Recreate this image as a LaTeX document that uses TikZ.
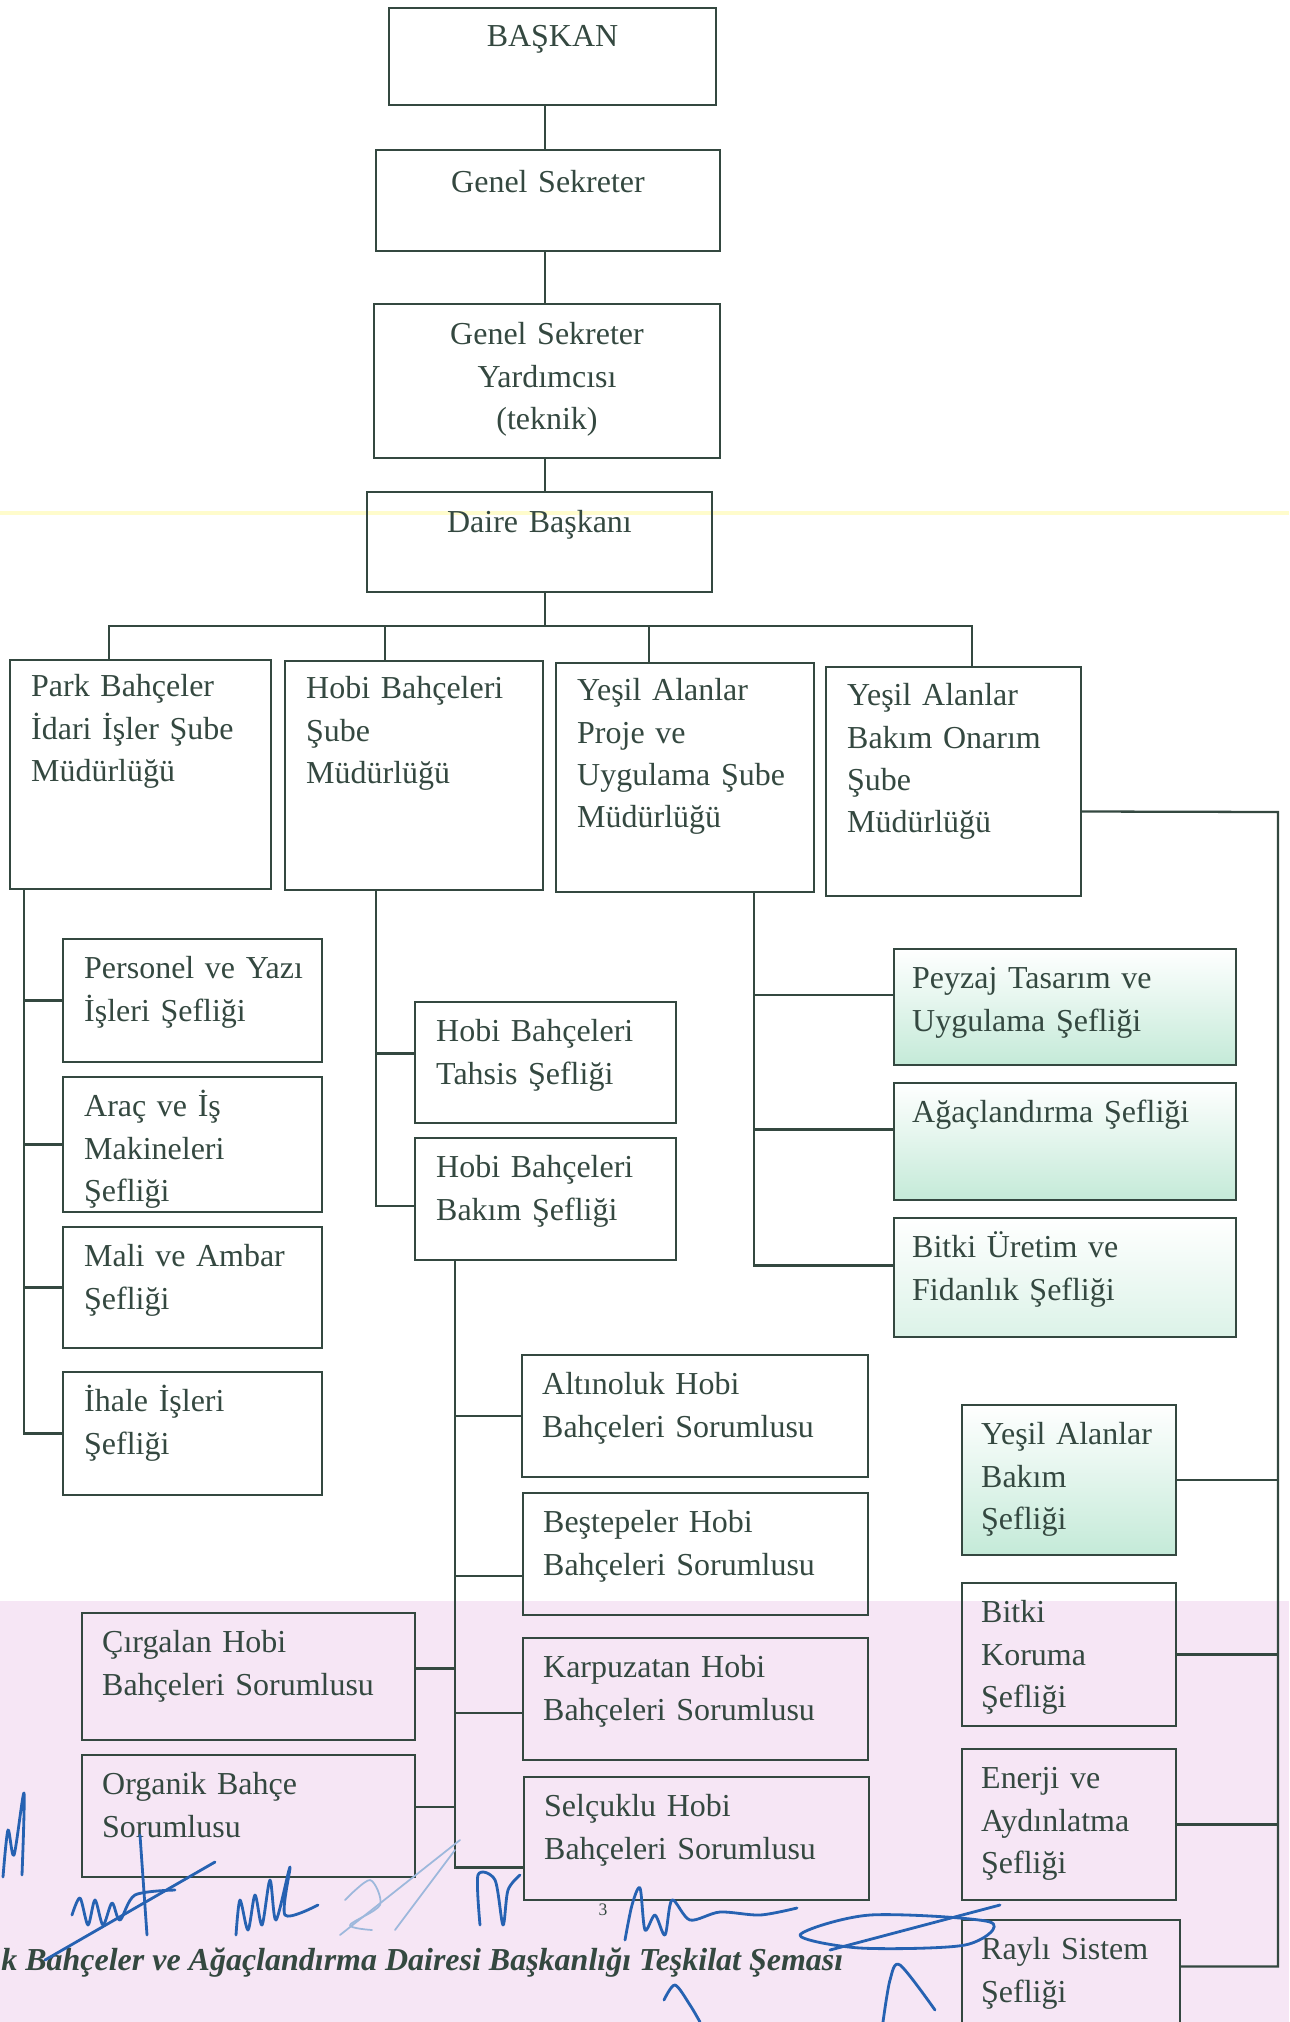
\documentclass[tikz,border=0pt]{standalone}
\usepackage{fontspec}
\setmainfont{Liberation Serif}
\usetikzlibrary{fit}
\definecolor{ink}{RGB}{52,72,64}
\definecolor{mint}{RGB}{196,234,216}
\definecolor{pinkbg}{RGB}{246,230,245}
\definecolor{pen}{RGB}{38,98,178}
\begin{document}
\begin{tikzpicture}[x=0.02cm, y=-0.02cm,
    box/.style={draw=ink, line width=1.3pt, inner sep=0pt},
    greenbox/.style={box, top color=white, middle color=white, bottom color=mint},
    lbl/.style={anchor=base west, text width=8cm, align=left, inner sep=0pt, text=ink, font=\fontsize{18.2}{24.1}\selectfont},
    lblc/.style={lbl, anchor=base, align=center},
    link/.style={draw=ink, line width=1.3pt}]
  \useasboundingbox (0,0) rectangle (1289,2022);
  \clip (0,0) rectangle (1289,2022);
  \fill[pinkbg] (0,1601) rectangle (1289,2022);
  \draw[line width=2pt, yellow!20] (0,513) -- (1289,513);

  % top chain
  \node[box, fit={(389,8) (716,105)}] (baskan) {};
  \node[box, fit={(376,150) (720,251)}] (gs) {};
  \node[box, fit={(374,304) (720,458)}] (gsy) {};
  \node[box, fit={(367,492) (712,592)}] (daire) {};
  \node[lblc] (baskan-t) at ([shift={(0,40)}]baskan.north) {BAŞKAN};
  \node[lblc] (gs-t) at ([shift={(0,44)}]gs.north) {Genel Sekreter};
  \node[lblc] (gsy-t) at ([shift={(0,42)}]gsy.north) {Genel Sekreter\\Yardımcısı\\(teknik)};
  \node[lblc] (daire-t) at ([shift={(0,42)}]daire.north) {Daire Başkanı};
  \coordinate (bus) at (545,626);
  \draw[link] (baskan.south -| bus) -- (gs.north -| bus);
  \draw[link] (gs.south -| bus) -- (gsy.north -| bus);
  \draw[link] (gsy.south -| bus) -- (daire.north -| bus);
  \draw[link] (daire.south -| bus) -- (bus);

  % sube mudurlukleri
  \node[box, fit={(10,660) (271,889)}] (park) {};
  \node[box, fit={(285,661) (543,890)}] (hobi) {};
  \node[box, fit={(556,663) (814,892)}] (proje) {};
  \node[box, fit={(826,667) (1081,896)}] (bakim) {};
  \node[lbl] (park-t) at ([shift={(22,38)}]park.north west) {Park Bahçeler\\İdari İşler Şube\\Müdürlüğü};
  \node[lbl] (hobi-t) at ([shift={(22,39)}]hobi.north west) {Hobi Bahçeleri\\Şube\\Müdürlüğü};
  \node[lbl] (proje-t) at ([shift={(22,39)}]proje.north west) {Yeşil Alanlar\\Proje ve\\Uygulama Şube\\Müdürlüğü};
  \node[lbl] (bakim-t) at ([shift={(22,40)}]bakim.north west) {Yeşil Alanlar\\Bakım Onarım\\Şube\\Müdürlüğü};
  \draw[link] ([xshift=2cm]park.north west) |- (bus) -| ([xshift=2.94cm]bakim.north west);
  \draw[link] ([xshift=2.02cm]hobi.north west) |- (bus);
  \draw[link] ([xshift=1.88cm]proje.north west) |- (bus);

  % park bahceler
  \node[box, fit={(63,939) (322,1062)}] (personel) {};
  \node[box, fit={(63,1077) (322,1212)}] (arac) {};
  \node[box, fit={(63,1227) (322,1348)}] (mali) {};
  \node[box, fit={(63,1372) (322,1495)}] (ihale) {};
  \node[lbl] (personel-t) at ([shift={(22,41)}]personel.north west) {Personel ve Yazı\\İşleri Şefliği};
  \node[lbl] (arac-t) at ([shift={(22,41)}]arac.north west) {Araç ve İş\\Makineleri\\Şefliği};
  \node[lbl] (mali-t) at ([shift={(22,41)}]mali.north west) {Mali ve Ambar\\Şefliği};
  \node[lbl] (ihale-t) at ([shift={(22,41)}]ihale.north west) {İhale İşleri\\Şefliği};
  \draw[link] ([xshift=0.3cm]park.south west) |- (ihale.west);
  \foreach \n in {personel,arac,mali}
    \draw[link] (\n.west) -| ([xshift=0.3cm]park.south west);

  % hobi bahceleri
  \node[box, fit={(415,1002) (676,1123)}] (tahsis) {};
  \node[box, fit={(415,1138) (676,1260)}] (hbakim) {};
  \node[lbl] (tahsis-t) at ([shift={(22,41)}]tahsis.north west) {Hobi Bahçeleri\\Tahsis Şefliği};
  \node[lbl] (hbakim-t) at ([shift={(22,41)}]hbakim.north west) {Hobi Bahçeleri\\Bakım Şefliği};
  \draw[link] ([xshift=1.84cm]hobi.south west) |- ([yshift=-0.14cm]hbakim.west);
  \draw[link] ([yshift=0.18cm]tahsis.west) -| ([xshift=1.84cm]hobi.south west);

  % hobi bahceleri sorumlulari
  \node[box, fit={(522,1355) (868,1477)}] (altinoluk) {};
  \node[box, fit={(523,1493) (868,1615)}] (bestepe) {};
  \node[box, fit={(523,1638) (868,1760)}] (karpuz) {};
  \node[box, fit={(524,1777) (869,1900)}] (selcuk) {};
  \node[box, fit={(82,1613) (415,1740)}] (cirgalan) {};
  \node[box, fit={(82,1755) (415,1877)}] (organik) {};
  \node[lbl] (altinoluk-t) at ([shift={(21,41)}]altinoluk.north west) {Altınoluk Hobi\\Bahçeleri Sorumlusu};
  \node[lbl] (bestepe-t) at ([shift={(21,41)}]bestepe.north west) {Beştepeler Hobi\\Bahçeleri Sorumlusu};
  \node[lbl] (karpuz-t) at ([shift={(21,41)}]karpuz.north west) {Karpuzatan Hobi\\Bahçeleri Sorumlusu};
  \node[lbl] (selcuk-t) at ([shift={(21,41)}]selcuk.north west) {Selçuklu Hobi\\Bahçeleri Sorumlusu};
  \node[lbl] (cirgalan-t) at ([shift={(21,41)}]cirgalan.north west) {Çırgalan Hobi\\Bahçeleri Sorumlusu};
  \node[lbl] (organik-t) at ([shift={(21,41)}]organik.north west) {Organik Bahçe\\Sorumlusu};
  \draw[link] ([xshift=0.82cm]hbakim.south west) |- ([yshift=-0.58cm]selcuk.west);
  \draw[link] (altinoluk.west) -| ([xshift=0.82cm]hbakim.south west);
  \draw[link] ([yshift=-0.44cm]bestepe.west) -| ([xshift=0.82cm]hbakim.south west);
  \draw[link] ([yshift=-0.28cm]karpuz.west) -| ([xshift=0.82cm]hbakim.south west);
  \draw[link] ([yshift=0.16cm]cirgalan.east) -| ([xshift=0.82cm]hbakim.south west);
  \draw[link] ([yshift=0.18cm]organik.east) -| ([xshift=0.82cm]hbakim.south west);

  % yesil alanlar proje
  \node[greenbox, fit={(894,949) (1236,1065)}] (peyzaj) {};
  \node[greenbox, fit={(894,1083) (1236,1200)}] (agac) {};
  \node[box, top color=white, bottom color=mint!60, fit={(894,1218) (1236,1337)}] (bitkiu) {};
  \node[lbl] (peyzaj-t) at ([shift={(19,41)}]peyzaj.north west) {Peyzaj Tasarım ve\\Uygulama Şefliği};
  \node[lbl] (agac-t) at ([shift={(19,41)}]agac.north west) {Ağaçlandırma Şefliği};
  \node[lbl] (bitkiu-t) at ([shift={(19,41)}]bitkiu.north west) {Bitki Üretim ve\\Fidanlık Şefliği};
  \draw[link] ([xshift=3.98cm]proje.south west) |- ([yshift=0.24cm]bitkiu.west);
  \foreach \n in {peyzaj,agac}
    \draw[link] ([yshift=0.24cm]\n.west) -| ([xshift=3.98cm]proje.south west);

  % yesil alanlar bakim onarim
  \node[greenbox, fit={(962,1405) (1176,1555)}] (yabs) {};
  \node[box, fit={(962,1583) (1176,1726)}] (koruma) {};
  \node[box, fit={(962,1749) (1176,1900)}] (enerji) {};
  \node[box, fit={(962,1920) (1180,2045)}] (rayli) {};
  \node[lbl] (yabs-t) at ([shift={(20,41)}]yabs.north west) {Yeşil Alanlar\\Bakım\\Şefliği};
  \node[lbl] (koruma-t) at ([shift={(20,41)}]koruma.north west) {Bitki\\Koruma\\Şefliği};
  \node[lbl] (enerji-t) at ([shift={(20,41)}]enerji.north west) {Enerji ve\\Aydınlatma\\Şefliği};
  \node[lbl] (rayli-t) at ([shift={(20,41)}]rayli.north west) {Raylı Sistem\\Şefliği};
  \coordinate (rs) at (1278,812);
  \draw[link] ([yshift=-0.6cm]bakim.east) -- (rs) |- ([yshift=0.32cm]rayli.east);
  \foreach \n in {yabs,koruma,enerji}
    \draw[link] (\n.east) -- (\n.east -| rs);

  % alt yazi
  \node[anchor=base west, inner sep=0pt, text=ink, font=\fontsize{18.2}{22}\selectfont\bfseries\itshape] (caption) at (1,1970) {k Bahçeler ve Ağaçlandırma Dairesi Başkanlığı Teşkilat Şeması};
  \node[anchor=base, inner sep=0pt, text=ink, font=\fontsize{10}{12}\selectfont] (pagenum) at (603,1915) {3};

  % imzalar
  \begin{scope}[draw=pen, line width=1.6pt, line cap=round, line join=round]
    \draw plot[smooth] coordinates {(3,1877) (8,1830) (14,1855) (24,1793) (22,1875)};
    \draw (45,1960) -- (215,1862);
    \draw (140,1835) -- (147,1935);
    \draw plot[smooth] coordinates {(72,1915) (80,1898) (88,1925) (95,1900) (103,1925) (112,1903) (120,1920) (135,1895) (175,1890)};
    \draw plot[smooth] coordinates {(236,1935) (240,1900) (248,1930) (255,1895) (262,1925) (270,1880) (276,1920) (290,1867) (285,1915) (318,1905)};
    \draw[draw=pen!45, line width=1pt] (340,1935) -- (460,1840) (395,1930) -- (455,1850);
    \draw[draw=pen!45, line width=1pt] plot[smooth] coordinates {(345,1900) (370,1880) (380,1905) (350,1925) (372,1930)};
    \draw plot[smooth] coordinates {(480,1925) (478,1875) (495,1880) (503,1925) (508,1890) (520,1875)};
    \draw plot[smooth] coordinates {(625,1940) (632,1905) (640,1888) (645,1930) (655,1915) (665,1935) (672,1900) (690,1920) (720,1912) (760,1915) (797,1908)};
    \draw plot[smooth cycle] coordinates {(800,1935) (870,1915) (990,1922) (965,1945) (860,1948)};
    \draw (830,1950) -- (1000,1905);
    \draw plot[smooth] coordinates {(664,2000) (675,1985) (690,2005) (700,2022)};
    \draw plot[smooth] coordinates {(883,2022) (890,1980) (900,1965) (935,2010)};
  \end{scope}
\end{tikzpicture}
\end{document}
